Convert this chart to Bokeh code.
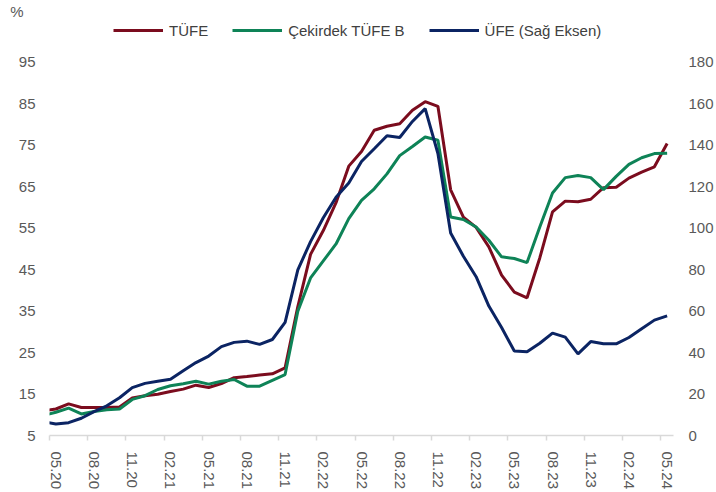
import numpy as np
from bokeh.plotting import figure
from bokeh.models import (Range1d, LinearAxis, FixedTicker, Legend, LegendItem)
from bokeh.embed import file_html
from bokeh.resources import INLINE

# ---- data (index -1 = 04.20, 0 = 05.20 ... 48 = 05.24) ----
month_index = list(range(-1, 49))
tufe = [10.94,
        11.39, 12.62, 11.76, 11.77, 11.75, 11.89, 14.03, 14.60,
        14.97, 15.61, 16.19, 17.14, 16.59, 17.53, 18.95, 19.25, 19.58, 19.89, 21.31, 36.08,
        48.69, 54.44, 61.14, 69.97, 73.50, 78.62, 79.60, 80.21, 83.45, 85.51, 84.39, 64.27,
        57.68, 55.18, 50.51, 43.68, 39.59, 38.21, 47.83, 58.94, 61.53, 61.36, 61.98, 64.77,
        64.86, 67.07, 68.50, 69.80, 75.45]
cekirdek_b = [9.8,
              10.6, 11.6, 10.2, 10.8, 11.2, 11.4, 13.7, 14.6,
              16.1, 17.0, 17.5, 18.1, 17.4, 18.1, 18.5, 16.9, 16.9, 18.3, 19.7, 35.0,
              43.0, 47.1, 51.2, 57.3, 61.7, 64.5, 68.1, 72.5, 74.7, 77.0, 76.2, 57.7,
              57.1, 55.3, 52.1, 48.1, 47.7, 46.7, 55.3, 63.5, 67.2, 67.7, 67.2, 64.3,
              67.5, 70.4, 72.0, 73.0, 73.1]
ufe = [6.71,
       5.53, 6.17, 8.33, 11.53, 14.33, 18.20, 23.11, 25.15,
       26.16, 27.09, 31.20, 35.17, 38.33, 42.89, 44.92, 45.52, 43.96, 46.31, 54.62, 79.89,
       93.53, 105.01, 114.97, 121.82, 132.16, 138.31, 144.61, 143.75, 151.50, 157.69, 136.02, 97.72,
       86.46, 76.61, 62.43, 52.11, 40.76, 40.42, 44.50, 49.41, 47.44, 39.39, 45.3, 44.22,
       44.20, 47.29, 51.47, 55.66, 57.68]
tick_labels = ["05.20", "08.20", "11.20", "02.21", "05.21", "08.21", "11.21", "02.22",
               "05.22", "08.22", "11.22", "02.23", "05.23", "08.23", "11.23", "02.24", "05.24"]
left_ticks = [5, 15, 25, 35, 45, 55, 65, 75, 85, 95]
right_ticks = [0, 20, 40, 60, 80, 100, 120, 140, 160, 180]
series_names = ["TÜFE", "Çekirdek TÜFE B", "ÜFE (Sağ Eksen)"]
unit_label = "%"
colors = ["#7B0C1E", "#0E8357", "#0B2463"]

FONT = "Liberation Sans"
GRAY = "#595959"

W, H = 716, 492
LEFT, RIGHT, BOTTOM = 49, 42, 56      # borders around the plotting area
TOP_PAD = 62                          # empty band above the 95 / 180 level (legend lives here)
plot_h = H - BOTTOM                   # frame spans the whole height above the x axis
data_h = plot_h - TOP_PAD
l_lo, l_hi = left_ticks[0], left_ticks[-1]
r_lo, r_hi = right_ticks[0], right_ticks[-1]
l_top = l_hi + TOP_PAD * (l_hi - l_lo) / data_h
r_top = r_hi + TOP_PAD * (r_hi - r_lo) / data_h
pct_level = l_lo + (plot_h - 11) * (l_hi - l_lo) / data_h

label_pos = [3 * k for k in range(len(tick_labels))]
boundary_pos = [t - 0.5 for t in label_pos]

p = figure(width=W, height=H, output_backend="svg", toolbar_location=None,
           x_range=Range1d(-0.5, 48.5), y_range=Range1d(l_lo, l_top),
           min_border_left=LEFT, min_border_right=RIGHT, min_border_top=0,
           min_border_bottom=BOTTOM)
p.outline_line_color = None
p.background_fill_color = "white"
p.border_fill_color = "white"
p.xgrid.visible = False
p.ygrid.visible = False
p.extra_y_ranges = {"right": Range1d(r_lo, r_top)}

# x axis
xa = p.xaxis[0]
xa.ticker = FixedTicker(ticks=label_pos, minor_ticks=boundary_pos)
xa.major_label_overrides = {t: lab for t, lab in zip(label_pos, tick_labels)}
xa.major_label_orientation = "vertical"
xa.major_tick_out = 0
xa.major_tick_in = 0
xa.major_tick_line_color = None
xa.minor_tick_out = 5
xa.minor_tick_in = 0
xa.minor_tick_line_color = "#d9d9d9"
xa.minor_tick_line_width = 1.5
xa.axis_line_color = "#d9d9d9"
xa.axis_line_width = 1.5
xa.major_label_standoff = 11
xa.major_label_text_font = FONT
xa.major_label_text_font_size = "15px"
xa.major_label_text_color = GRAY

def style_value_axis(ax, standoff):
    ax.axis_line_color = None
    ax.major_tick_line_color = None
    ax.minor_tick_line_color = None
    ax.major_tick_out = 0
    ax.major_tick_in = 0
    ax.minor_tick_out = 0
    ax.major_label_standoff = standoff
    ax.major_label_text_font = FONT
    ax.major_label_text_font_size = "15px"
    ax.major_label_text_color = GRAY

# left axis
ya = p.yaxis[0]
ya.ticker = FixedTicker(ticks=left_ticks)
style_value_axis(ya, 14)

# "%" unit, as an outer left axis with a single label
ua = LinearAxis(ticker=FixedTicker(ticks=[pct_level]),
                major_label_overrides={pct_level: unit_label})
style_value_axis(ua, -8)
p.add_layout(ua, "left")

# right axis
ra = LinearAxis(y_range_name="right", ticker=FixedTicker(ticks=right_ticks))
style_value_axis(ra, 15)
p.add_layout(ra, "right")

r1 = p.line(month_index, tufe, line_color=colors[0], line_width=3)
r2 = p.line(month_index, cekirdek_b, line_color=colors[1], line_width=3)
r3 = p.line(month_index, ufe, line_color=colors[2], line_width=3, y_range_name="right")

legend = Legend(items=[LegendItem(label=series_names[0], renderers=[r1]),
                       LegendItem(label=series_names[1], renderers=[r2]),
                       LegendItem(label=series_names[2], renderers=[r3])],
                orientation="horizontal", location=(64, plot_h - 41))
legend.glyph_width = 50
legend.glyph_height = 20
legend.label_height = 20
legend.label_standoff = 6
legend.spacing = 24
legend.padding = 0
legend.margin = 0
legend.border_line_color = None
legend.background_fill_alpha = 0
legend.label_text_font = FONT
legend.label_text_font_size = "15px"
legend.label_text_color = "#404040"
p.add_layout(legend)

open("out.html", "w").write(file_html(p, INLINE))
